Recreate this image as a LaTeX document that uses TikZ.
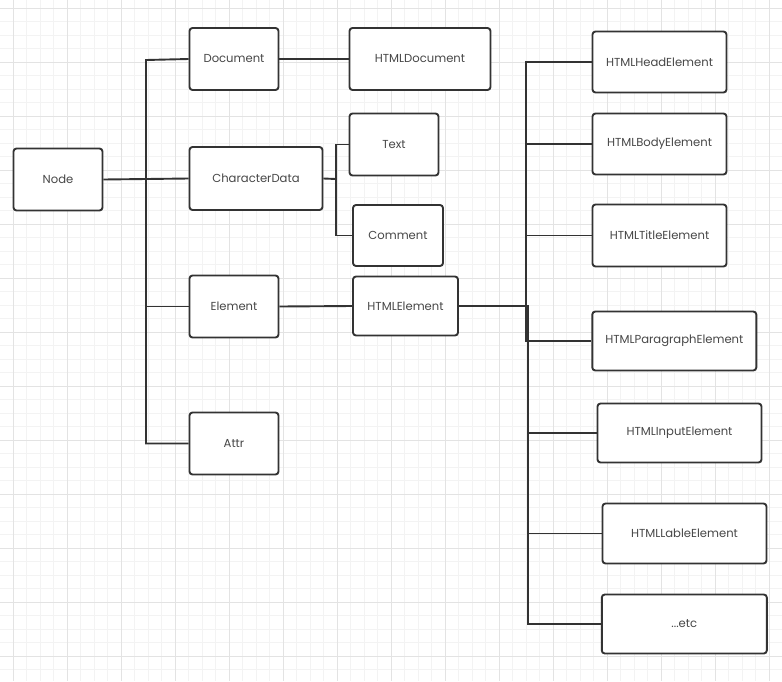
\documentclass[tikz,border=0pt]{standalone}
\usepackage{fontspec}
\setmainfont{Poppins}
\usepackage{tikz}
\usetikzlibrary{positioning, calc}

\definecolor{ink}{HTML}{333333}
\definecolor{gridmajor}{HTML}{E3E3E3}
\definecolor{gridminor}{HTML}{F3F3F3}

\begin{document}
\begin{tikzpicture}[
    x=1pt, y=-1pt,
    box/.style={draw=ink, line width=1.9pt, rounded corners=3pt, fill=white,
        text=ink!90, font=\fontsize{11.6}{13}\selectfont, inner sep=0pt},
    wire/.style={draw=ink, line width=1.9pt},
    minorline/.style={draw=gridminor, line width=0.8pt},
    majorline/.style={draw=gridmajor, line width=0.9pt}
]
    \useasboundingbox (0,0) rectangle (782,681);
    % 背景网格
    \foreach \gx in {-0.2,13.3,...,782} \draw[minorline] (\gx,0) -- (\gx,681);
    \foreach \gy in {-5.5,8,...,681} \draw[minorline] (0,\gy) -- (782,\gy);
    \foreach \gx in {13.3,67.3,...,782} \draw[majorline] (\gx,0) -- (\gx,681);
    \foreach \gy in {8,62,...,681} \draw[majorline] (0,\gy) -- (782,\gy);

    % 左侧
    \node[box, minimum width=89pt, minimum height=62pt] (node) at (58,179.5) {Node};
    \node[box, minimum width=89pt, minimum height=62pt] (doc) at (234,59) {Document};
    \node[box, minimum width=141pt, minimum height=62pt] (htmldoc) at (420,59) {HTMLDocument};
    \node[box, minimum width=133pt, minimum height=63pt] (chardata) at (256,178.5) {CharacterData};
    \node[box, minimum width=89pt, minimum height=62pt] (text) at (394,144.5) {Text};
    \node[box, minimum width=90pt, minimum height=61pt] (comment) at (398,235.5) {Comment};
    \node[box, minimum width=89pt, minimum height=62pt] (elem) at (234,306.5) {Element};
    \node[box, minimum width=105pt, minimum height=59pt] (htmlelem) at (405.5,306) {HTMLElement};
    \node[box, minimum width=89pt, minimum height=62pt] (attr) at (234,443.5) {Attr};

    % 右侧
    \node[box, minimum width=134pt, minimum height=61pt] (head) at (659.5,62) {HTMLHeadElement};
    \node[box, minimum width=134pt, minimum height=61pt] (body) at (659.5,144) {HTMLBodyElement};
    \node[box, minimum width=134pt, minimum height=62pt] (title) at (659.5,235.5) {HTMLTitleElement};
    \node[box, minimum width=164pt, minimum height=59pt] (para) at (674.3,341) {HTMLParagraphElement};
    \node[box, minimum width=164pt, minimum height=59pt] (input) at (679.5,433) {HTMLInputElement};
    \node[box, minimum width=164pt, minimum height=60pt] (lable) at (684.5,533.5) {HTMLLableElement};
    \node[box, minimum width=165pt, minimum height=59pt] (etc) at (684.3,624) {...etc};

    \coordinate (bus1) at (146,60);
    \coordinate (bus2) at (336,179);
    \coordinate (bus3) at (526,341);
    \coordinate (bus4) at (528,306);

    \draw[wire] (node.east) -- (chardata.west);
    \draw[wire] (doc.west) -- (bus1) |- (attr.west);
    \draw[wire] (bus1 |- elem.west) -- (elem.west);
    \draw[wire] (doc.east) -- (htmldoc.west);
    \draw[wire] (chardata.east) -- (bus2);
    \draw[wire] (text.west) -| (bus2) |- (comment.west);
    \draw[wire] (elem.east) -- (htmlelem.west);
    \draw[wire] (head.west) -| (bus3) -- (para.west);
    \draw[wire] (bus3 |- body.west) -- (body.west);
    \draw[wire] (bus3 |- title.west) -- (title.west);
    \draw[wire] (htmlelem.east) -- (bus4) |- (etc.west);
    \draw[wire] (bus4 |- input.west) -- (input.west);
    \draw[wire] (bus4 |- lable.west) -- (lable.west);
\end{tikzpicture}
\end{document}
